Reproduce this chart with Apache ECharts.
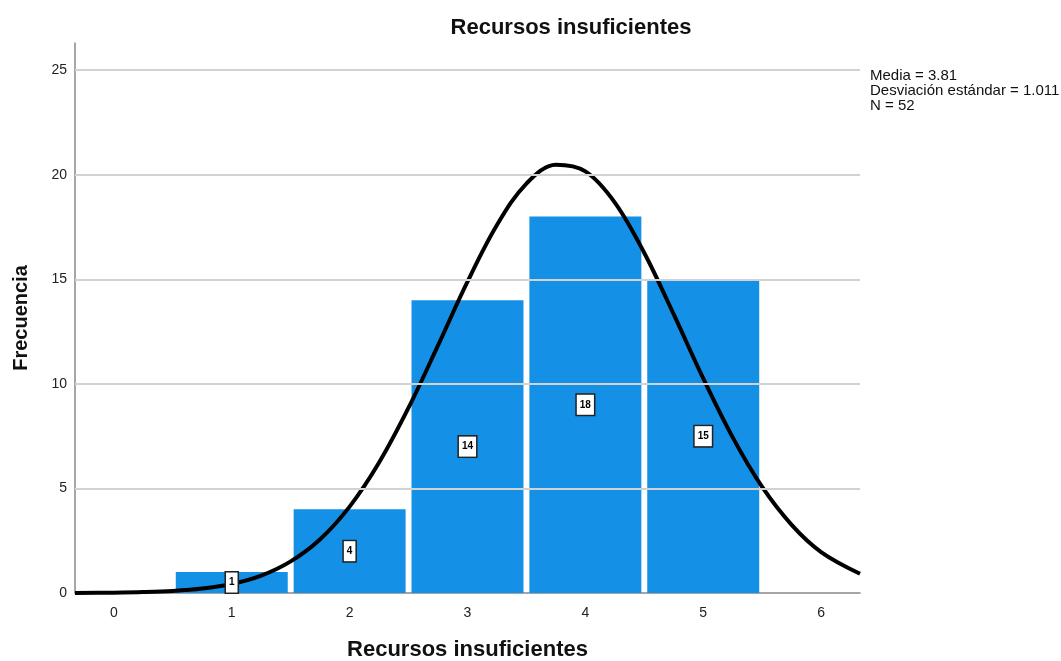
<!DOCTYPE html>
<html>
<head>
<meta charset="utf-8">
<script src="https://cdn.jsdelivr.net/npm/echarts@6/dist/echarts.min.js"></script>
<style>html,body{margin:0;padding:0;background:#fff;}#c{width:1061px;height:661px;}</style>
</head>
<body>
<div id="c"></div>
<script>
const categories = [1, 2, 3, 4, 5];
const frequencies = [1, 4, 14, 18, 15];
const curveX = [-0.33, 0, 0.25, 0.5, 0.75, 1, 1.25, 1.5, 1.75, 2, 2.25, 2.5, 2.75, 3, 3.25, 3.5, 3.75, 4, 4.25, 4.5, 4.75, 5, 5.25, 5.5, 5.75, 6, 6.33];
const curveY = [0.005, 0.017, 0.042, 0.096, 0.21, 0.43, 0.83, 1.51, 2.57, 4.13, 6.24, 8.86, 11.84, 14.89, 17.60, 19.58, 20.48, 20.16, 18.67, 16.26, 13.32, 10.26, 7.44, 5.07, 3.26, 1.96, 0.92];
const yTicks = [5, 10, 15, 20, 25];
const statsText = ['Media = 3.81', 'Desviación estándar = 1.011', 'N = 52'];

const FONT = '"Liberation Sans", Arial, sans-serif';
const chart = echarts.init(document.getElementById('c'));
const barData = categories.map((c, i) => [c, frequencies[i]]);
const curveData = curveX.map((x, i) => [x, curveY[i]]);

chart.setOption({
  animation: false,
  textStyle: { fontFamily: FONT },
  title: {
    text: 'Recursos insuficientes',
    left: 566, top: 12, textAlign: 'center',
    textStyle: { fontFamily: FONT, fontSize: 22, fontWeight: 'bold', color: '#111' }
  },
  graphic: [{
    type: 'text', left: 870, top: 68,
    style: { text: statsText.join('\n'), font: '15px ' + FONT, lineHeight: 15, fill: '#111' }
  }],
  grid: { left: 75, right: 201, top: 43, bottom: 68, outerBoundsMode: 'none' },
  xAxis: {
    type: 'value', min: -0.33, max: 6.33,
    name: 'Recursos insuficientes', nameLocation: 'middle', nameGap: 46,
    nameTextStyle: { fontFamily: FONT, fontSize: 22, fontWeight: 'bold', color: '#111' },
    axisLine: { show: true, onZero: false, lineStyle: { color: '#888', width: 1.5 } },
    axisTick: { show: false },
    splitLine: { show: false },
    axisLabel: { showMinLabel: false, showMaxLabel: false, fontSize: 14, color: '#222', margin: 13,
      formatter: v => (Math.abs(v - Math.round(v)) < 1e-6 ? String(Math.round(v)) : '') }
  },
  yAxis: {
    type: 'value', min: 0, max: 26.3, interval: 5,
    name: 'Frecuencia', nameLocation: 'middle', nameGap: 44,
    nameTextStyle: { fontFamily: FONT, fontSize: 20, fontWeight: 'bold', color: '#111' },
    axisLine: { show: true, onZero: false, lineStyle: { color: '#888', width: 1.5 } },
    axisTick: { show: false },
    splitLine: { show: false },
    axisLabel: { showMaxLabel: false, fontSize: 14, color: '#222', margin: 8,
      formatter: v => (v % 5 === 0 ? String(v) : '') }
  },
  series: [
    {
      type: 'line', data: [], z: 0, silent: true,
      markLine: {
        silent: true, symbol: 'none', label: { show: false },
        lineStyle: { color: '#d2d2d2', width: 2, type: 'solid' },
        data: yTicks.map(v => ({ yAxis: v }))
      }
    },
    {
      type: 'custom', z: 2, data: barData,
      renderItem: (params, api) => {
        const x = api.value(0), y = api.value(1);
        const p0 = api.coord([x - 0.475, y]);
        const p1 = api.coord([x + 0.475, 0]);
        return { type: 'rect', shape: { x: p0[0], y: p0[1], width: p1[0] - p0[0], height: p1[1] - p0[1] },
          style: { fill: '#1490e6' } };
      }
    },
    {
      type: 'line', z: 4, data: curveData, smooth: 0.35, showSymbol: false, silent: true,
      lineStyle: { color: '#000', width: 4 }
    },
    {
      type: 'custom', z: 6, data: barData,
      renderItem: (params, api) => {
        const x = api.value(0), y = api.value(1);
        const p = api.coord([x, y / 2]);
        return { type: 'text', x: p[0], y: p[1],
          style: { text: String(y), fontFamily: FONT, fontSize: 10, fontWeight: 'bold', fill: '#000',
            align: 'center', verticalAlign: 'middle', backgroundColor: '#fff',
            borderColor: '#222', borderWidth: 1.5, padding: [5, 3] } };
      }
    }
  ]
});
</script>
</body>
</html>
